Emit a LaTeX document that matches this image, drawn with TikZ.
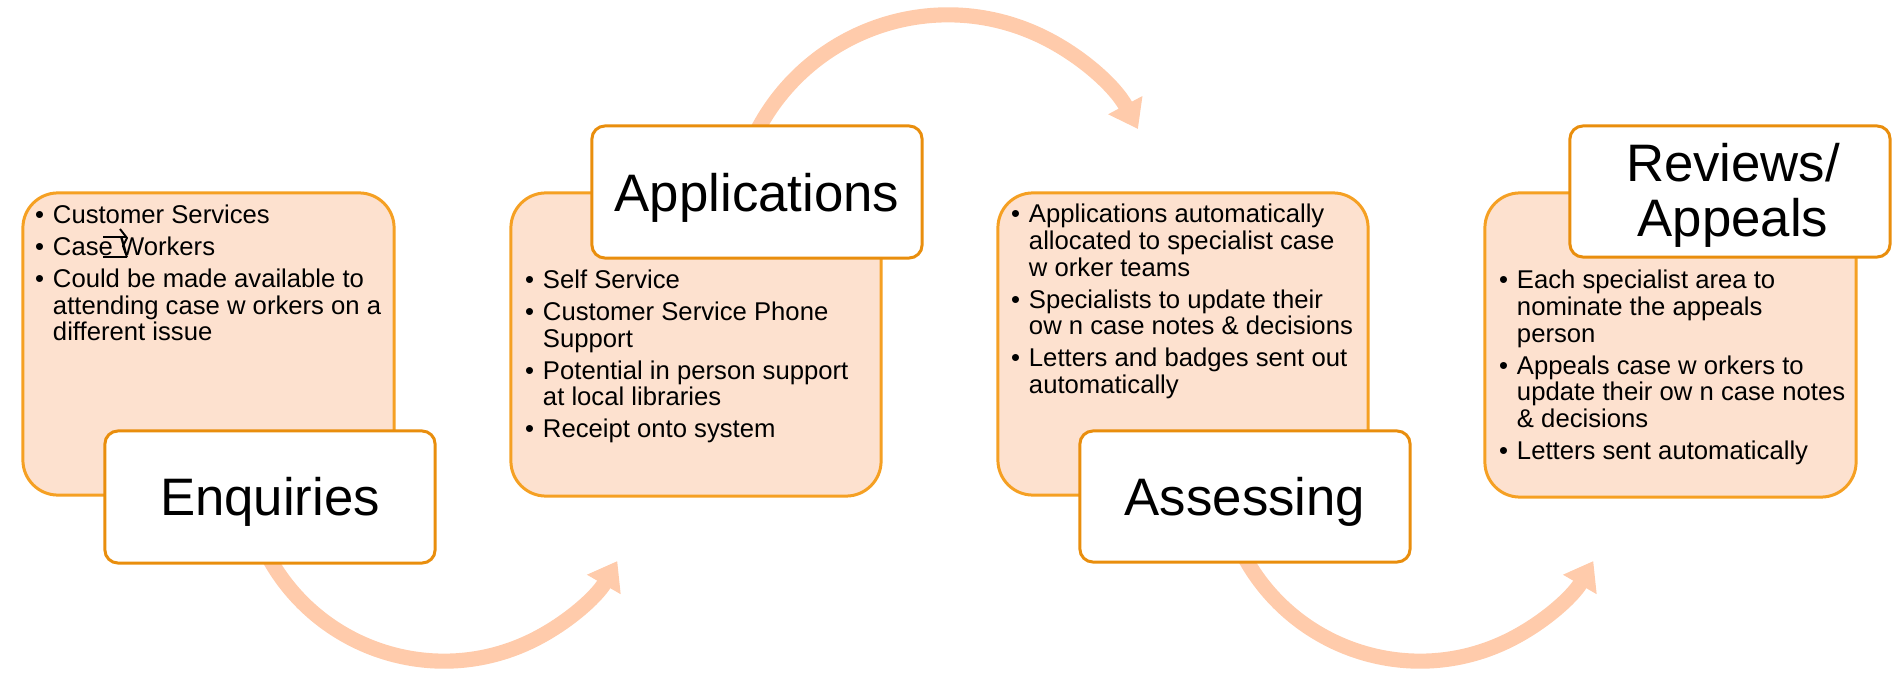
\documentclass[tikz,border=0pt]{standalone}
\usepackage{fontspec}
\setmainfont{Liberation Sans}
\usetikzlibrary{arrows.meta}

\definecolor{edgeor}{HTML}{F5A023}
\definecolor{titleor}{HTML}{E98E0D}
\definecolor{peach}{HTML}{FDE1CF}
\definecolor{flow}{HTML}{FFCBAB}

\newcommand\itm{\textbullet &}
\newcommand\bodyfont{\fontsize{7.3}{7.6}\selectfont}
\newcommand\titlefont{\fontsize{15}{15.6}\selectfont}

\begin{document}
\begin{tikzpicture}[x=0.01cm,y=0.01cm,
  panel/.style={draw=edgeor, fill=peach, line width=0.85pt, rounded corners=0.35cm, inner sep=0pt},
  titlebox/.style={draw=titleor, fill=white, line width=0.85pt, rounded corners=0.13cm, inner sep=0pt},
  flowarrow/.style={draw=flow, line width=4.3pt, -{Triangle[length=0.27cm,width=0.37cm]}},
  body/.style={anchor=base west, inner sep=0pt, font=\bodyfont},
  heading/.style={anchor=base, inner sep=0pt, font=\titlefont}]

\useasboundingbox (0,0) rectangle (1893,-673);

% curved flow arrows between the stages (drawn first, behind the boxes)
\coordinate (arcA) at (444,-461);
\coordinate (arcB) at (948,-230);
\coordinate (arcC) at (1420,-461);
\draw[flowarrow] (arcA) ++(205:2cm) arc[start angle=205, end angle=330, radius=2cm];
\draw[flowarrow] (arcB) ++(156:2.15cm) arc[start angle=156, end angle=28, radius=2.15cm];
\draw[flowarrow] (arcC) ++(205:2cm) arc[start angle=205, end angle=330, radius=2cm];

% detail panels
\node[panel, minimum width=3.71cm, minimum height=3.02cm] (enqP) at (208.5,-344) {};
\node[panel, minimum width=3.70cm, minimum height=3.03cm] (appP) at (696,-344.5) {};
\node[panel, minimum width=3.70cm, minimum height=3.02cm] (assP) at (1183,-344) {};
\node[panel, minimum width=3.71cm, minimum height=3.04cm] (revP) at (1670.5,-345) {};

% stage headings
\node[titlebox, minimum width=3.30cm, minimum height=1.32cm] (enqH) at (270,-497) {};
\node[titlebox, minimum width=3.30cm, minimum height=1.32cm] (appH) at (757,-192) {};
\node[titlebox, minimum width=3.30cm, minimum height=1.31cm] (assH) at (1245,-496.5) {};
\node[titlebox, minimum width=3.20cm, minimum height=1.31cm] (revH) at (1730,-191.5) {};

\node[heading] (enqL) at (270,-515) {Enquiries};
\node[heading] (appL) at (757,-212) {Applications};
\node[heading] (assL) at (1245,-515) {Assessing};
\node[heading] (revL) at (1733,-182) {\begin{tabular}[t]{@{}c@{}}Reviews/\\Appeals\end{tabular}};

% bullet texts
\node[body] (enqT) at (34.5,-224) {\begin{tabular}[t]{@{}l@{\hspace{2.5pt}}l@{}}
\itm Customer Services\\[1.4pt]
\itm Case Workers\\[1.4pt]
\itm Could be made available to\\
& attending case w orkers on a\\
& different issue
\end{tabular}};

\node[body] (appT) at (524.5,-289) {\begin{tabular}[t]{@{}l@{\hspace{2.5pt}}l@{}}
\itm Self Service\\[1.4pt]
\itm Customer Service Phone\\
& Support\\[1.4pt]
\itm Potential in person support\\
& at local libraries\\[1.4pt]
\itm Receipt onto system
\end{tabular}};

\node[body] (assT) at (1010.5,-223) {\begin{tabular}[t]{@{}l@{\hspace{2.5pt}}l@{}}
\itm Applications automatically\\
& allocated to specialist case\\
& w orker teams\\[1.4pt]
\itm Specialists to update their\\
& ow n case notes \& decisions\\[1.4pt]
\itm Letters and badges sent out\\
& automatically
\end{tabular}};

\node[body] (revT) at (1498.5,-289) {\begin{tabular}[t]{@{}l@{\hspace{2.5pt}}l@{}}
\itm Each specialist area to\\
& nominate the appeals\\
& person\\[1.4pt]
\itm Appeals case w orkers to\\
& update their ow n case notes\\
& \& decisions\\[1.4pt]
\itm Letters sent automatically
\end{tabular}};

% small edit mark over "Case Workers"
\draw[line width=0.55pt, line join=round]
  (103,-237) -- (126,-237)
  (120,-229) -- (127,-238) -- (123,-246) -- (127,-257)
  (103,-257) -- (127,-257);

\end{tikzpicture}
\end{document}
